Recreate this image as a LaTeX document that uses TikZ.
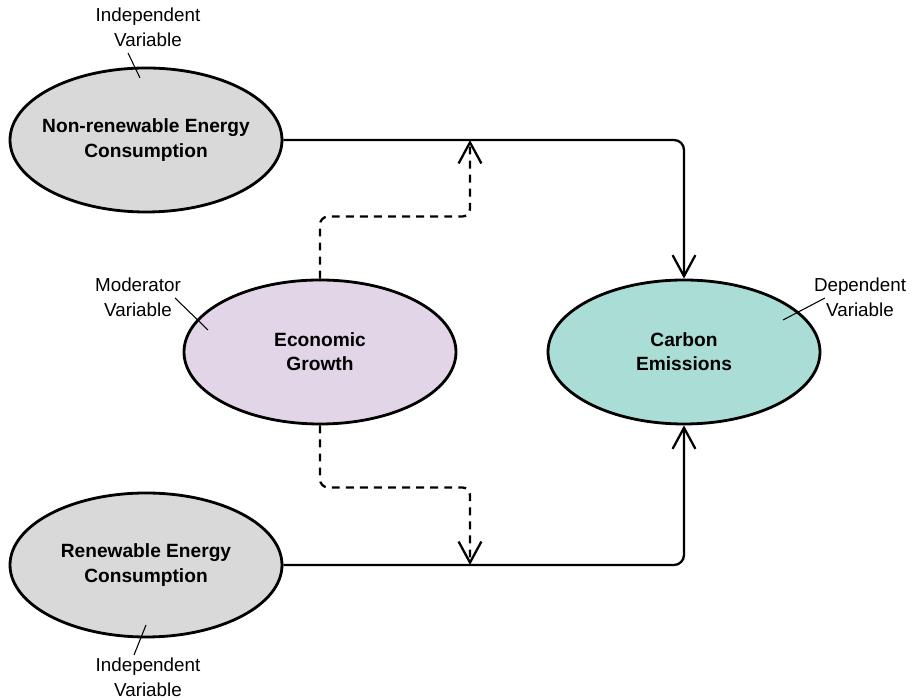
\documentclass[tikz,border=0pt]{standalone}
\usepackage{fontspec}
\setmainfont{Liberation Sans}
\usetikzlibrary{shapes.geometric,arrows.meta,positioning}

\tikzset{
  var/.style={ellipse, draw=black, line width=1.6pt, minimum width=5.44cm,
    minimum height=2.88cm, inner xsep=-0.6cm, inner ysep=0pt, align=center,
    font=\fontsize{10.9}{13.8}\selectfont\bfseries},
  note/.style={align=center, font=\fontsize{10.7}{14.2}\selectfont},
  leader/.style={line width=0.6pt},
  link/.style={line width=1.3pt, rounded corners=0.2cm,
    -{Straight Barb[length=12pt,width=13pt,line width=1.3pt]}},
  modlink/.style={link, rounded corners=0.16cm, dash pattern=on 4.5pt off 3.5pt}
}
\definecolor{grayfill}{HTML}{D9D9D9}
\definecolor{purplefill}{HTML}{E1D5E7}
\definecolor{tealfill}{HTML}{A9DDD6}

\begin{document}
\begin{tikzpicture}
\useasboundingbox (0,0) rectangle (18.26,14);

% variables
\node[var, fill=grayfill] (nonren) at (2.92,11.2) {Non-renewable Energy\\Consumption};
\node[var, fill=purplefill] (growth) at (6.4,6.96) {Economic\\Growth};
\node[var, fill=tealfill] (carbon) at (13.68,6.96) {Carbon\\Emissions};
\node[var, fill=grayfill] (ren) at (2.92,2.7) {Renewable Energy\\Consumption};

% labels
\node[note] (ivtop) at (2.96,13.45) {Independent\\Variable};
\node[note] (mod) at (2.76,8.06) {Moderator\\Variable};
\node[note] (dep) at (17.2,8.06) {Dependent\\Variable};
\node[note] (ivbot) at (2.96,0.46) {Independent\\Variable};

\coordinate (ivtopA) at (2.56,12.94);
\coordinate (ivtopB) at (2.8,12.44);
\coordinate (modA) at (3.5,8.04);
\coordinate (modB) at (4.16,7.4);
\coordinate (depA) at (16.5,8.04);
\coordinate (depB) at (15.66,7.6);
\coordinate (ivbotA) at (2.68,0.9);
\coordinate (ivbotB) at (2.92,1.5);

\draw[leader] (ivtopA) -- (ivtopB);
\draw[leader] (modA) -- (modB);
\draw[leader] (depA) -- (depB);
\draw[leader] (ivbotA) -- (ivbotB);

% direct effects
\draw[link] (nonren.east) -| (carbon.north);
\draw[link] (ren.east) -| (carbon.south);

% moderation
\coordinate (modtop) at (9.4,11.2);
\coordinate (modbot) at (9.4,2.7);
\draw[modlink] (growth.north) -- ++(0,1.24) -| (modtop);
\draw[modlink] (growth.south) -- ++(0,-1.24) -| (modbot);
\end{tikzpicture}
\end{document}
